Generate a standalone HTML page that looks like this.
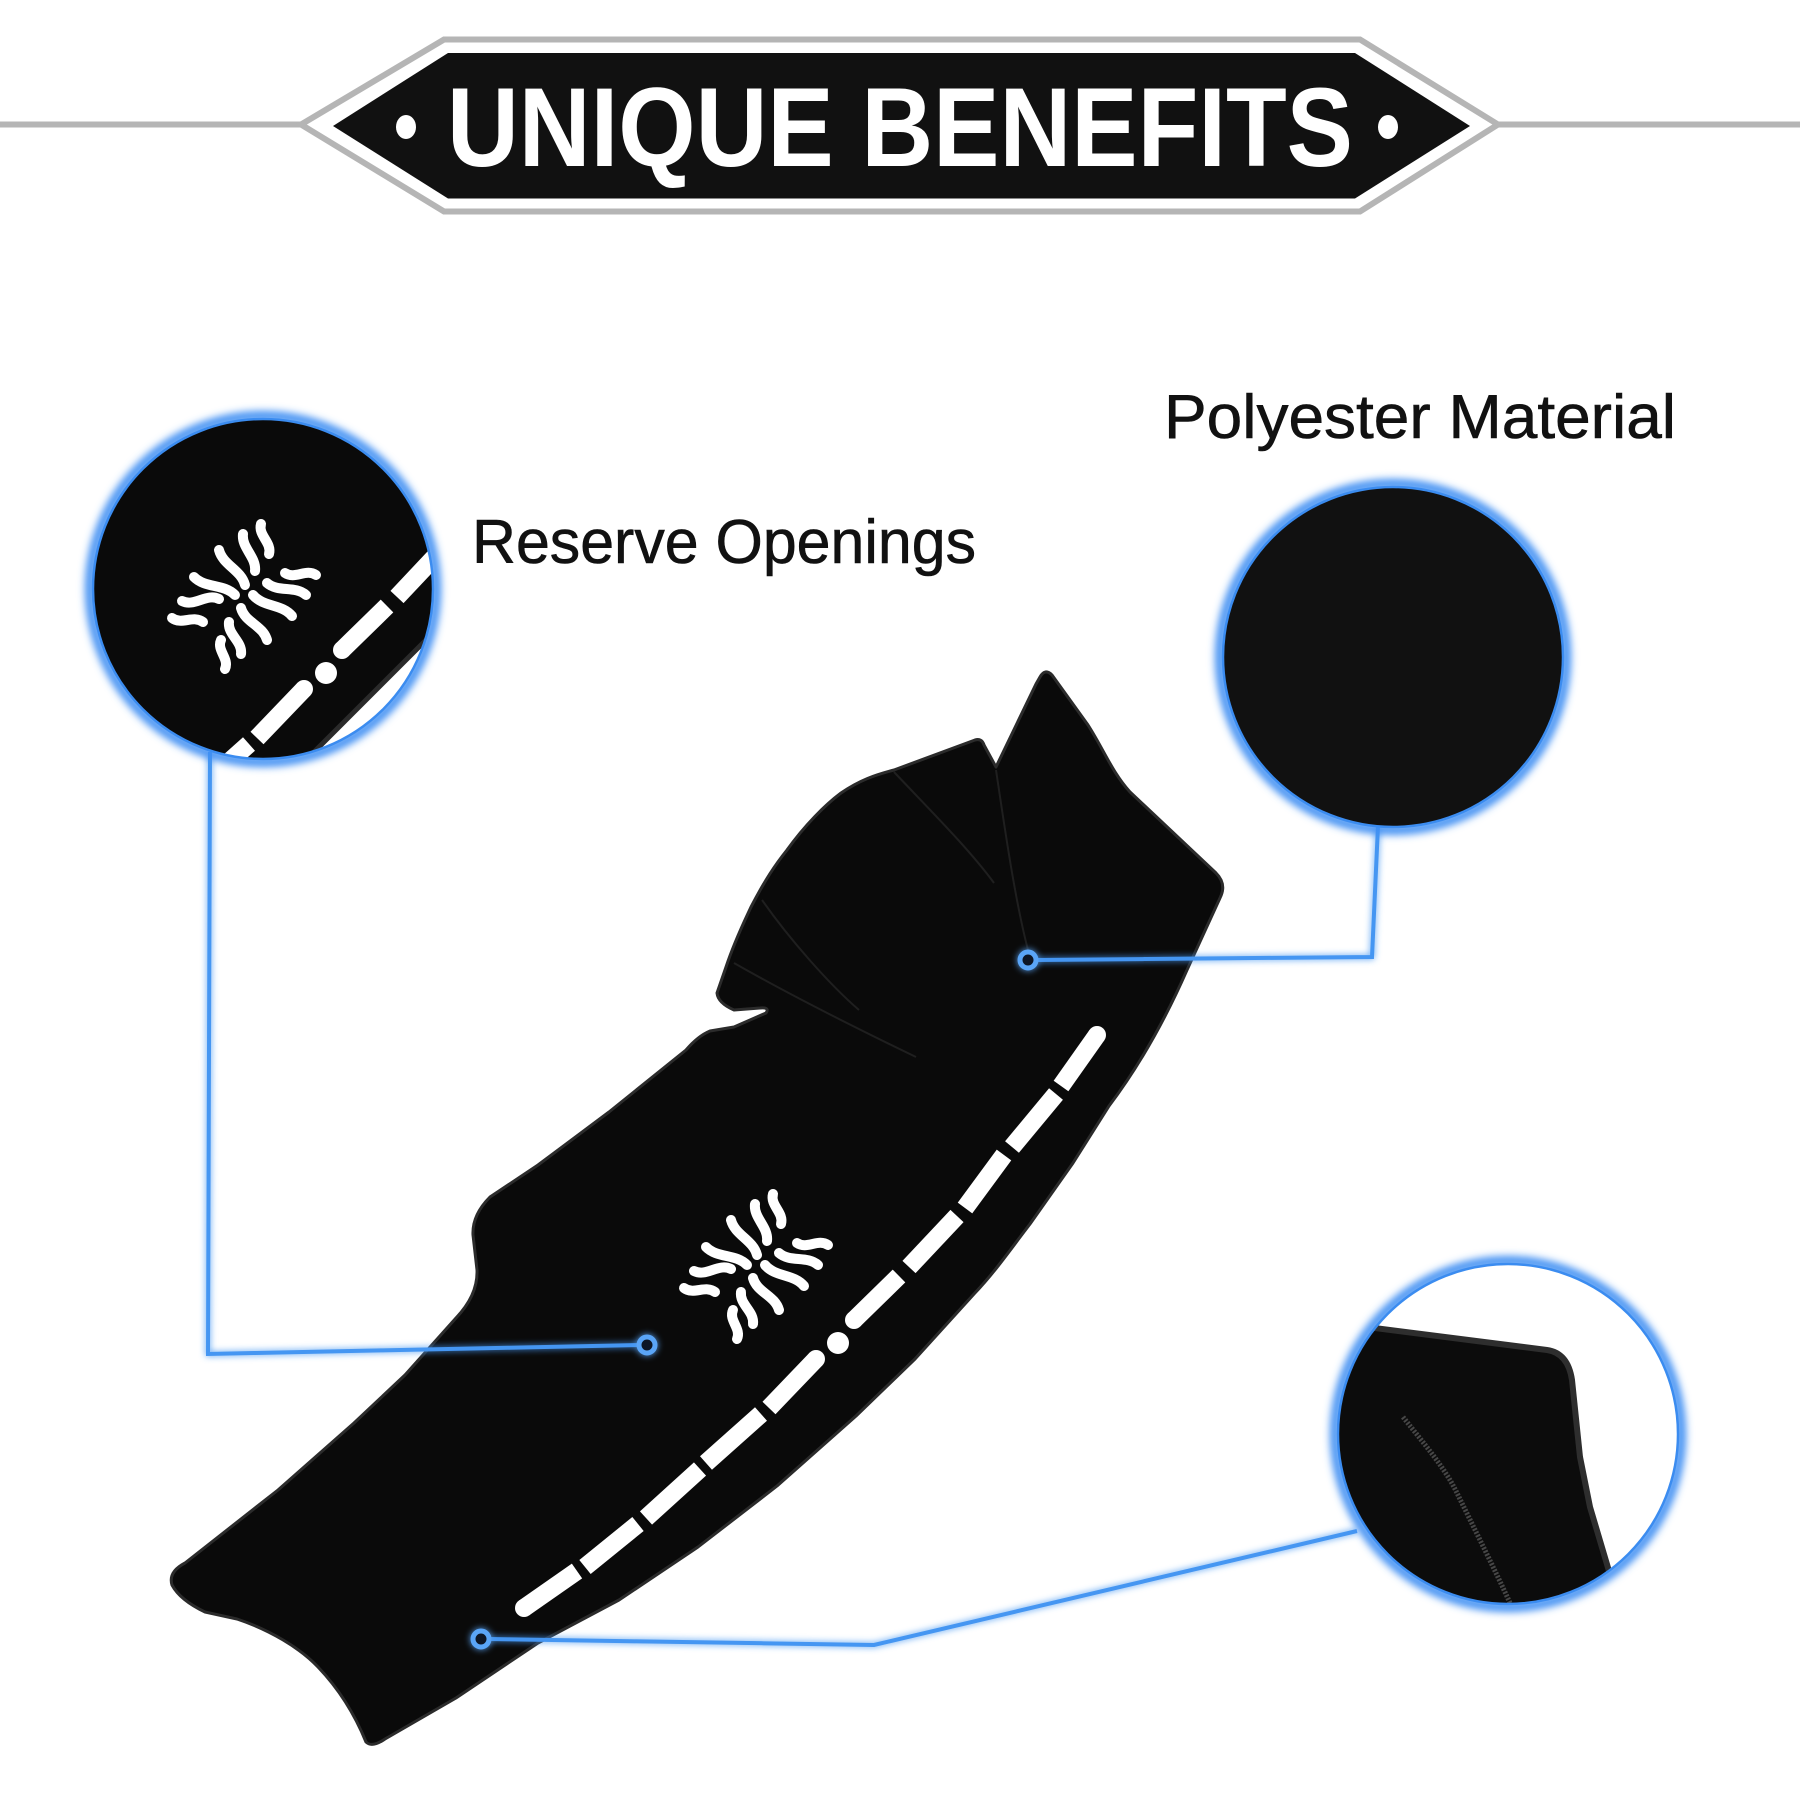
<!DOCTYPE html>
<html>
<head>
<meta charset="utf-8">
<style>
  html,body{margin:0;padding:0;background:#fff;}
  svg{display:block;}
</style>
</head>
<body>
<svg width="1800" height="1800" viewBox="0 0 1800 1800" xmlns="http://www.w3.org/2000/svg">
  <defs>
    <filter id="glow" filterUnits="userSpaceOnUse" x="0" y="0" width="1800" height="1800">
      <feGaussianBlur in="SourceGraphic" stdDeviation="3.5" result="b"/>
      <feMerge><feMergeNode in="b"/><feMergeNode in="SourceGraphic"/></feMerge>
    </filter>
    <filter id="soft" filterUnits="userSpaceOnUse" x="0" y="0" width="1800" height="1800">
      <feGaussianBlur in="SourceGraphic" stdDeviation="4"/>
    </filter>
    <clipPath id="c1"><circle cx="263" cy="589" r="170"/></clipPath>
    <clipPath id="c3"><circle cx="1508" cy="1434" r="170"/></clipPath>

    <g id="vent" fill="none" stroke="#fff" stroke-width="10" stroke-linecap="round">
      <path d="M684 1288 C693.5 1295.3 705.5 1284.7 715 1292"/>
      <path d="M694 1271 C706.6 1277.3 718.4 1262.7 731 1269"/>
      <path d="M706 1247 C717.3 1258.5 735.7 1253.5 747 1265"/>
      <path d="M797 1243 C807 1249.7 818 1238.3 828 1245"/>
      <path d="M779 1253 C790.2 1262.7 806.8 1255.3 818 1265"/>
      <path d="M765 1265 C775.2 1277.3 793.8 1273.7 804 1286"/>
      <path d="M773 1194 C769.8 1205.5 784.2 1212.5 781 1224"/>
      <path d="M755 1204 C753.3 1218.1 768.7 1226.9 767 1241"/>
      <path d="M731 1220 C735 1235.3 753 1239.7 757 1255"/>
      <path d="M753 1278 C757 1292.5 775 1295.5 779 1310"/>
      <path d="M741 1292 C739.4 1304.8 754.6 1311.2 753 1324"/>
      <path d="M733 1310 C728.3 1320.5 741.7 1328.5 737 1339"/>
    </g>

    <g id="mat">
      <path fill="#0a0a0a" stroke="#2b2b2b" stroke-width="3" stroke-linejoin="round" d="
        M 1040 677 Q 1045 668 1052 675 L 1088 725
        C 1104 750, 1112 772, 1130 792 L 1216 873 Q 1227 884 1220 898
        L 1187 970 C 1165 1020, 1140 1065, 1109 1106
        L 1073 1163 L 1030 1224 C 1010 1250, 995 1272, 974 1294
        L 915 1359 L 856 1416 L 777 1486 L 698 1547 L 619 1600 L 538 1643
        L 456 1698 L 385 1739 Q 372 1748 366 1742
        C 355 1715, 340 1690, 318 1667 C 300 1648, 270 1630, 237 1619
        L 205 1612 Q 180 1600 172 1585 Q 168 1572 185 1563
        L 278 1490 L 354 1423 L 405 1375 L 456 1318
        Q 478 1295 477 1270 L 473 1235 Q 472 1215 490 1197
        L 538 1165 L 609 1112 L 686 1050 Q 698 1036 710 1031
        L 734 1027 L 766 1013 Q 770 1007 760 1008 L 734 1010
        Q 718 1003 717 993 L 726 967
        C 735 940, 745 920, 751 907 C 765 880, 775 865, 787 850
        C 805 825, 825 805, 841 793 C 860 780, 875 775, 894 770
        L 975 740 Q 982 738 984 745 L 996 767 L 1036 684 Z"/>
      <g fill="none" stroke="#1f1f1f" stroke-width="2">
        <path d="M894 772 C 930 810, 970 850, 994 883"/>
        <path d="M996 770 C 1005 830, 1015 900, 1028 950"/>
        <path d="M762 900 C 790 940, 830 985, 859 1010"/>
        <path d="M734 963 C 790 995, 860 1030, 916 1057"/>
      </g>
      <g stroke="#fff" stroke-width="18" stroke-linecap="butt" fill="#fff">
        <line x1="1097" y1="1035" x2="1061" y2="1086"/>
        <circle cx="1097" cy="1035" r="9" stroke="none"/>
        <line x1="1056" y1="1094" x2="1012" y2="1147"/>
        <line x1="1004" y1="1155" x2="965" y2="1208"/>
        <line x1="957" y1="1216" x2="909" y2="1267"/>
        <line x1="899" y1="1276" x2="854" y2="1320"/>
        <circle cx="854" cy="1320" r="9" stroke="none"/>
        <circle cx="838" cy="1343" r="11" stroke="none"/>
        <line x1="816" y1="1359" x2="769" y2="1408"/>
        <circle cx="816" cy="1359" r="9" stroke="none"/>
        <line x1="761" y1="1414" x2="706" y2="1463"/>
        <line x1="700" y1="1469" x2="646" y2="1518"/>
        <line x1="638" y1="1524" x2="585" y2="1567"/>
        <line x1="577" y1="1571" x2="524" y2="1608"/>
        <circle cx="524" cy="1608" r="9" stroke="none"/>
      </g>
      <use href="#vent"/>
    </g>
  </defs>

  <!-- Header -->
  <line x1="0" y1="124.5" x2="1800" y2="124.5" stroke="#b5b5b5" stroke-width="6"/>
  <polygon points="444,39.5 1360,39.5 1498,124.5 1360,211.5 444,211.5 301,124.5" fill="#fff" stroke="#b5b5b5" stroke-width="6"/>
  <polygon points="448,53 1355,53 1470,126 1355,198.5 448,198.5 333,126" fill="#111"/>
  <ellipse cx="406" cy="127" rx="10" ry="12" fill="#fff"/>
  <ellipse cx="1388" cy="127" rx="10" ry="12" fill="#fff"/>
  <text x="447" y="166" font-family="'Liberation Sans', sans-serif" font-weight="bold" font-size="112" fill="#fff" textLength="906" lengthAdjust="spacingAndGlyphs">UNIQUE BENEFITS</text>

  <!-- Labels -->
  <text x="1164" y="438" font-family="'Liberation Sans', sans-serif" font-size="62" fill="#111" stroke="#111" stroke-width="0.6" textLength="512" lengthAdjust="spacingAndGlyphs">Polyester Material</text>
  <text x="472" y="563" font-family="'Liberation Sans', sans-serif" font-size="62" fill="#111" stroke="#111" stroke-width="0.6" textLength="504" lengthAdjust="spacingAndGlyphs">Reserve Openings</text>

  <!-- Main mat -->
  <use href="#mat"/>

  <!-- Connectors -->
  <g fill="none" stroke="#4596f2" stroke-width="4" stroke-linejoin="miter" filter="url(#glow)">
    <polyline points="210,752 208,1354 640,1345"/>
    <polyline points="1378,826 1372,957 1036,960"/>
    <polyline points="1357,1531 874,1645 489,1639"/>
  </g>
  <g fill="#0d1726" stroke="#5aa5f7" stroke-width="5" filter="url(#glow)">
    <circle cx="647" cy="1345" r="8"/>
    <circle cx="1028" cy="960" r="8"/>
    <circle cx="481" cy="1639" r="8"/>
  </g>

  <!-- Circle 1: Reserve openings close-up -->
  <circle cx="263" cy="589" r="173" fill="none" stroke="#3f8ff3" stroke-width="10" filter="url(#soft)"/>
  <g clip-path="url(#c1)">
    <rect x="80" y="400" width="370" height="380" fill="#fff"/>
    <use href="#mat" transform="translate(-512,-670)"/>
    <polygon points="480,586 262,804 480,804" fill="#fff"/>
    <line x1="480" y1="586" x2="262" y2="804" stroke="#2a2a2a" stroke-width="5"/>
  </g>
  <circle cx="263" cy="589" r="170" fill="none" stroke="#3b8cf0" stroke-width="2.5"/>

  <!-- Circle 2: Polyester material -->
  <circle cx="1393" cy="657" r="173" fill="none" stroke="#3f8ff3" stroke-width="10" filter="url(#soft)"/>
  <circle cx="1393" cy="657" r="170" fill="#111" stroke="#3b8cf0" stroke-width="2.5"/>

  <!-- Circle 3: edge close-up -->
  <circle cx="1508" cy="1434" r="173" fill="none" stroke="#3f8ff3" stroke-width="10" filter="url(#soft)"/>
  <g clip-path="url(#c3)">
    <rect x="1330" y="1255" width="360" height="360" fill="#fff"/>
    <path d="M1320 1321 L1547 1350 Q1568 1353 1572 1380 L1580 1457 L1590 1507 L1625 1625 L1320 1625 Z" fill="#0c0c0c" stroke="#2e2e2e" stroke-width="6" stroke-linejoin="round"/>
    <path d="M1403 1417 C1425 1445, 1445 1468, 1457 1493 C1475 1530, 1495 1570, 1510 1603" fill="none" stroke="#474747" stroke-width="5" stroke-dasharray="2 1.5"/>
  </g>
  <circle cx="1508" cy="1434" r="170" fill="none" stroke="#3b8cf0" stroke-width="2.5"/>
</svg>
</body>
</html>
